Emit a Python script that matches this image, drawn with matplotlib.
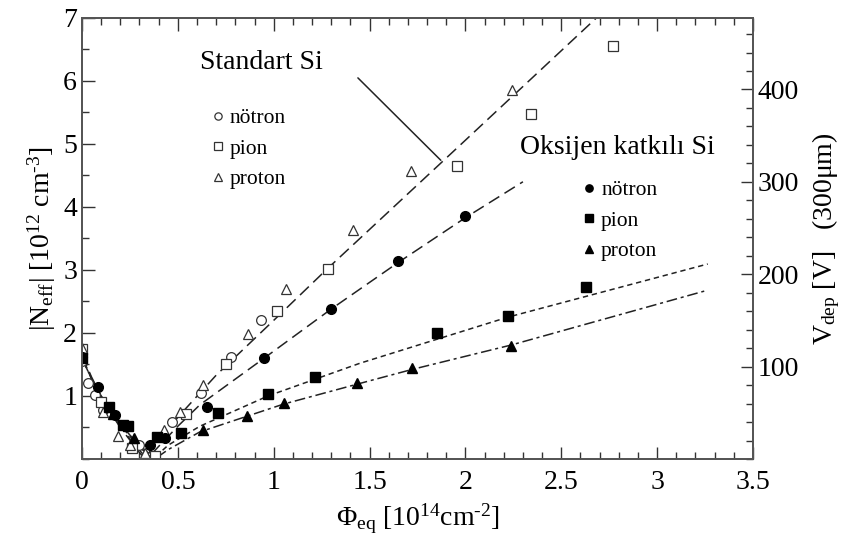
import matplotlib.pyplot as plt
import numpy as np
from matplotlib.ticker import MultipleLocator

plt.rcParams['font.family'] = ['Liberation Serif', 'DejaVu Serif']
plt.rcParams['mathtext.fontset'] = 'custom'
plt.rcParams['mathtext.rm'] = 'Liberation Serif'
plt.rcParams['mathtext.it'] = 'Liberation Serif:italic'

# Standart Si (acik semboller)
std_n_x = [0.0, 0.03, 0.07, 0.11, 0.30, 0.469, 0.62, 0.777, 0.933]
std_n_y = [1.55, 1.21, 1.02, 0.78, 0.22, 0.58, 1.04, 1.62, 2.20]
std_pi_x = [0.0, 0.10, 0.26, 0.38, 0.545, 0.751, 1.017, 1.281, 1.955, 2.34, 2.77]
std_pi_y = [1.75, 0.90, 0.18, 0.05, 0.72, 1.51, 2.35, 3.02, 4.65, 5.48, 6.56]
std_p_x = [0.0, 0.11, 0.19, 0.25, 0.33, 0.43, 0.51, 0.63, 0.866, 1.064, 1.413, 1.715, 2.242]
std_p_y = [1.76, 0.75, 0.36, 0.22, 0.10, 0.46, 0.75, 1.17, 1.98, 2.70, 3.63, 4.57, 5.86]

# Oksijen katkili Si (dolu semboller)
oks_n_x = [0.0, 0.082, 0.17, 0.355, 0.433, 0.65, 0.949, 1.30, 1.65, 2.0]
oks_n_y = [1.62, 1.15, 0.70, 0.22, 0.33, 0.83, 1.60, 2.38, 3.14, 3.86]
oks_pi_x = [0.0, 0.14, 0.215, 0.24, 0.39, 0.515, 0.71, 0.968, 1.215, 1.851, 2.222, 2.631]
oks_pi_y = [1.60, 0.83, 0.54, 0.52, 0.35, 0.42, 0.73, 1.03, 1.30, 2.00, 2.27, 2.735]
oks_p_x = [0.16, 0.27, 0.63, 0.859, 1.053, 1.432, 1.719, 2.24]
oks_p_y = [0.72, 0.33, 0.46, 0.68, 0.89, 1.20, 1.44, 1.80]

# fit egrileri (resimden okunan noktalar)
fit_std_x = [0, 0.05, 0.1, 0.15, 0.2, 0.25, 0.3, 0.33, 0.37, 0.45, 0.55, 0.7, 1.0, 1.28, 2.0, 2.683]
fit_std_y = [1.65, 1.3, 1.0, 0.73, 0.5, 0.3, 0.1, 0.0, 0.2, 0.49, 0.83, 1.33, 2.2, 3.02, 5.06, 7.0]
fit_on_x = [0, 0.05, 0.1, 0.15, 0.2, 0.25, 0.3, 0.34, 0.4, 0.5, 0.615, 0.95, 1.3, 1.65, 2.0, 2.30]
fit_on_y = [1.62, 1.28, 0.99, 0.74, 0.52, 0.32, 0.14, 0.0, 0.2, 0.52, 0.86, 1.6, 2.38, 3.12, 3.83, 4.40]
fit_opi_x = [0, 0.05, 0.1, 0.15, 0.2, 0.25, 0.3, 0.37, 0.45, 0.615, 0.97, 1.45, 2.22, 3.264]
fit_opi_y = [1.6, 1.27, 0.99, 0.75, 0.54, 0.36, 0.19, 0.0, 0.22, 0.52, 1.0, 1.52, 2.25, 3.095]
fit_op_x = [0, 0.05, 0.1, 0.15, 0.2, 0.25, 0.3, 0.38, 0.45, 0.615, 1.05, 1.45, 1.72, 2.24, 3.264]
fit_op_y = [1.6, 1.27, 1.0, 0.76, 0.56, 0.38, 0.22, 0.0, 0.15, 0.43, 0.87, 1.2, 1.42, 1.81, 2.68]

vdep_per_neff = 68.2  # 300 um icin V / 10^12 cm^-3

fig = plt.figure(figsize=(8.52, 5.43), dpi=100)
ax = fig.add_axes([0.0962, 0.1547, 0.7876, 0.8122])

lc = '#222222'
ax.plot(fit_std_x, fit_std_y, color=lc, lw=1.1, dashes=(8, 4))
ax.plot(fit_on_x, fit_on_y, color=lc, lw=1.1, dashes=(8, 4))
ax.plot(fit_opi_x, fit_opi_y, color=lc, lw=1.1, dashes=(3.5, 2.5))
ax.plot(fit_op_x, fit_op_y, color=lc, lw=1.1, dashes=(7, 2.5, 2, 2.5))

ms = 7
h1, = ax.plot(std_n_x, std_n_y, 'o', ms=ms, mfc='white', mec='#333333', mew=0.9, ls='none')
h2, = ax.plot(std_pi_x, std_pi_y, 's', ms=ms, mfc='white', mec='#333333', mew=0.9, ls='none')
h3, = ax.plot(std_p_x, std_p_y, '^', ms=ms, mfc='white', mec='#333333', mew=0.9, ls='none')
h4, = ax.plot(oks_n_x, oks_n_y, 'o', ms=ms, color='black', ls='none')
h5, = ax.plot(oks_pi_x, oks_pi_y, 's', ms=ms, color='black', ls='none')
h6, = ax.plot(oks_p_x, oks_p_y, '^', ms=ms, color='black', ls='none')

ax.set_xlim(0, 3.5)
ax.set_ylim(0, 7)
ax.xaxis.set_minor_locator(MultipleLocator(0.1))
ax.yaxis.set_minor_locator(MultipleLocator(0.5))
ax.set_xticks([0, 0.5, 1, 1.5, 2, 2.5, 3, 3.5])
ax.set_xticklabels(['0', '0.5', '1', '1.5', '2', '2.5', '3', '3.5'])
ax.set_yticks([1, 2, 3, 4, 5, 6, 7])
ax.tick_params(which='both', direction='in', top=True, right=False, labelsize=20, colors='#333333',
               labelcolor='black')
ax.tick_params(which='major', length=9, width=1)
ax.tick_params(which='minor', length=5, width=1)
ax.tick_params(axis='x', pad=8)
for s in ax.spines.values():
    s.set_color('#555555')
    s.set_linewidth(1.3)

ax.set_xlabel('Φ$_{\\rm eq}$ [10$^{14}$cm$^{\\text{-}2}$]', fontsize=20, labelpad=5)
ax.set_ylabel('|N$_{\\rm eff}$| [10$^{12}$ cm$^{\\text{-}3}$]', fontsize=20, labelpad=4)

ax2 = ax.twinx()
ax2.set_ylim(0, 7 * vdep_per_neff)
ax2.yaxis.set_minor_locator(MultipleLocator(20))
ax2.set_yticks([100, 200, 300, 400])
ax2.tick_params(which='both', direction='in', labelsize=20, colors='#333333', labelcolor='black')
ax2.tick_params(which='major', length=9, width=1)
ax2.tick_params(which='minor', length=5, width=1)
ax2.set_ylabel('V$_{\\rm dep}$ [V]   (300μm)', fontsize=20, labelpad=8)
for s in ax2.spines.values():
    s.set_color('#555555')
    s.set_linewidth(1.3)

ax.text(0.615, 6.29, 'Standart Si', fontsize=20, va='center', ha='left')
ax.annotate('', xy=(1.882, 4.71), xytext=(1.429, 6.08),
            arrowprops=dict(arrowstyle='-', color='#222222', lw=1.1))
ax.text(2.284, 4.95, 'Oksijen katkılı Si', fontsize=20, va='center', ha='left')

leg1 = ax.legend([h1, h2, h3], ['nötron', 'pion', 'proton'], loc='upper left',
                 bbox_to_anchor=(0.194, 0.795), frameon=False, fontsize=15.5,
                 handlelength=0.5, handletextpad=0.3, labelspacing=0.48,
                 borderpad=0, borderaxespad=0, markerscale=0.75)
ax.add_artist(leg1)
ax.legend([h4, h5, h6], ['nötron', 'pion', 'proton'], loc='upper left',
          bbox_to_anchor=(0.748, 0.632), frameon=False, fontsize=15.5,
          handlelength=0.5, handletextpad=0.3, labelspacing=0.48,
          borderpad=0, borderaxespad=0, markerscale=0.75)

fig.savefig('out.png', dpi=100)
